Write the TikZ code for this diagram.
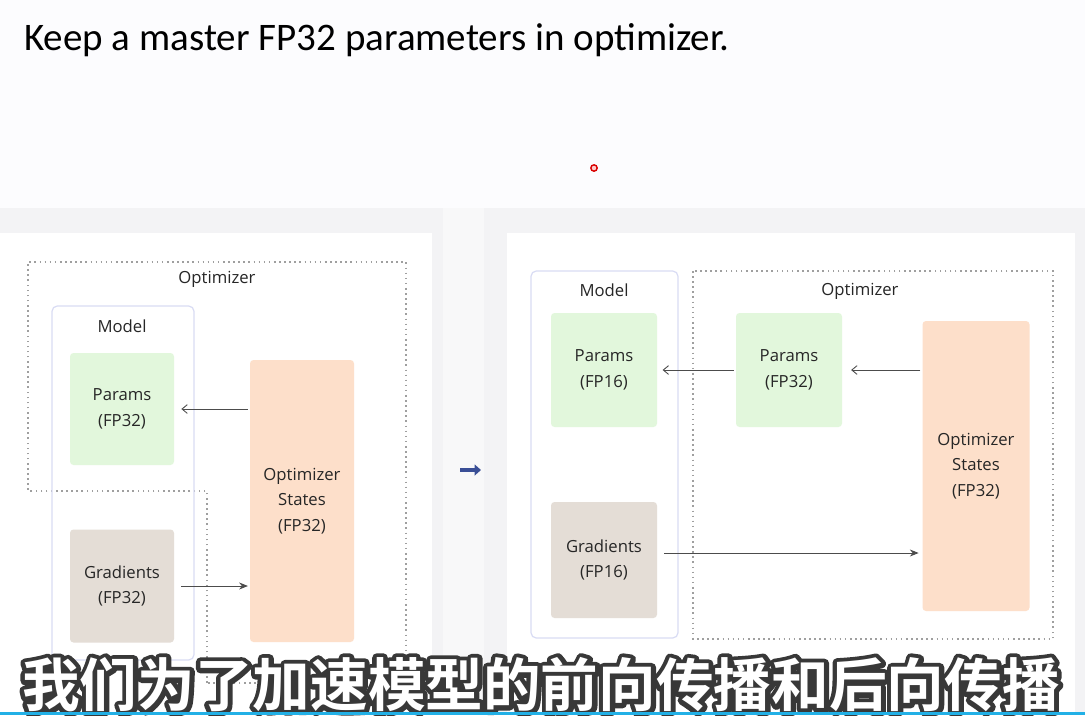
\documentclass[tikz,border=0pt]{standalone}
\usepackage{fontspec}
\setmainfont{Carlito}
\newfontfamily\labelfont{Open Sans}
\newfontfamily\subfont{Noto Sans CJK SC Bold}
\newfontfamily\subshadefont[FakeBold=16]{Noto Sans CJK SC Bold}
\usepackage[svgnames]{xcolor}
\usetikzlibrary{arrows.meta,positioning}

\definecolor{paramgreen}{HTML}{E2F7DC}
\definecolor{gradtaupe}{HTML}{E4DDD6}
\definecolor{statepeach}{HTML}{FDDFCA}
\definecolor{modelblue}{HTML}{D9DCF4}
\definecolor{panelgray}{HTML}{F3F3F5}
\definecolor{pagewhite}{HTML}{FCFCFE}
\definecolor{arrowblue}{HTML}{3A4F96}
\definecolor{subcyan}{HTML}{22B0E6}

\tikzset{
	box/.style={rectangle, rounded corners=2pt, inner sep=0pt, align=center, text=black!85,
		font=\labelfont\fontsize{9.5}{14.5}\selectfont},
	params/.style={box, fill=paramgreen},
	grads/.style={box, fill=gradtaupe},
	states/.style={box, fill=statepeach},
	modelframe/.style={draw=modelblue, rounded corners=3pt, line width=0.7pt},
	optframe/.style={draw=gray!75, dotted, line width=0.9pt},
	caption/.style={text=black!85, font=\labelfont\fontsize{9.5}{12}\selectfont},
	back/.style={draw=black!70, line width=0.5pt, -{Straight Barb[length=3pt,width=5pt]}},
	flow/.style={draw=black!70, line width=0.5pt, -{Stealth[length=5pt,width=4pt]}},
	subtext/.style={font=\fontsize{32.8}{34}\selectfont, inner sep=0pt, line join=round}
}

\begin{document}
\begin{tikzpicture}[x=0.2mm, y=-0.2mm]
	\fill[pagewhite] (0,0) rectangle (1085,715);
	\useasboundingbox (0,0) rectangle (1085,715);
	\fill[panelgray] (0,208) rectangle (443,715);
	\fill[white] (0,233) rectangle (432,715);
	\fill[panelgray!60] (443,208) rectangle (484,715);
	\fill[panelgray] (484,208) rectangle (1085,715);
	\fill[white] (507,233) rectangle (1075,715);

	\node[anchor=base west, font=\fontsize{22.2}{26}\selectfont] (title) at (18,50) {Keep a master FP32 parameters in optimizer.};
	\filldraw[draw=red!85!black, fill=red!20, line width=0.8pt] (594,168) circle (3.2);

	% mixed precision setup, left
	\draw[optframe] (207,683) -- (207,491) -- (28,491) -- (28,262) -- (406,262) -- (406,683) -- cycle;
	\node[caption] (optL) at (217,279) {Optimizer};
	\draw[modelframe] (52,306) rectangle (194,660);
	\node[caption] (modelL) at (122,326) {Model};
	\node[params, minimum width=104*0.2mm, minimum height=112*0.2mm] (paramsL) at (122,409) {Params\\(FP32)};
	\node[grads, minimum width=104*0.2mm, minimum height=113*0.2mm] (gradsL) at (122,586) {Gradients\\(FP32)};
	\node[states, minimum width=104*0.2mm, minimum height=282*0.2mm] (statesL) at (302,501) {Optimizer\\States\\(FP32)};
	\draw[back, shorten <=1pt, shorten >=4pt] (statesL.west |- paramsL.east) -- (paramsL.east);
	\draw[flow, shorten <=4pt, shorten >=1pt] (gradsL.east) -- (statesL.west |- gradsL.east);

	\coordinate (gapL) at (460,470);
	\coordinate (gapR) at (481,470);
	\draw[arrowblue, line width=0.75mm, -{Triangle[length=1.3mm,width=2.2mm]}] (gapL) -- (gapR);

	% master copy kept by the optimizer, right
	\draw[modelframe] (531,271) rectangle (678,638);
	\node[caption] (modelR) at (604,290) {Model};
	\draw[optframe] (693,271) rectangle (1053,639);
	\node[caption] (optR) at (860,291) {Optimizer};
	\node[params, minimum width=106*0.2mm, minimum height=114*0.2mm] (params16) at (604,370) {Params\\(FP16)};
	\node[params, minimum width=106*0.2mm, minimum height=114*0.2mm] (params32) at (789,370) {Params\\(FP32)};
	\node[grads, minimum width=106*0.2mm, minimum height=116*0.2mm] (grads16) at (604,560) {Gradients\\(FP16)};
	\node[states, minimum width=107*0.2mm, minimum height=290*0.2mm] (statesR) at (976,466) {Optimizer\\States\\(FP32)};
	\draw[back, shorten <=1pt, shorten >=5pt] (statesR.west |- params32.east) -- (params32.east);
	\draw[back, shorten <=1pt, shorten >=3pt] (params32.west) -- (params16.east);
	\coordinate (gradout) at ([yshift=1.4mm]grads16.east);
	\draw[flow, shorten <=4pt, shorten >=2pt] (gradout) -- (statesR.west |- gradout);

	\node[subtext, text=black!78] (subshade) at (541,685) {\subshadefont 我们为了加速模型的前向传播和后向传播};
	\node[subtext, text=white] (subtitle) at (subshade) {\subfont 我们为了加速模型的前向传播和后向传播};
	\fill[subcyan] (0,712) rectangle (1085,715);
\end{tikzpicture}
\end{document}
